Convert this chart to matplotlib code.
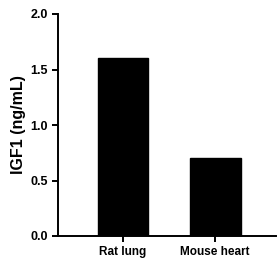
import matplotlib
matplotlib.use("Agg")
import matplotlib.pyplot as plt

categories = ["Rat lung", "Mouse heart"]
values = [1.6, 0.7]
yticks = [0.0, 0.5, 1.0, 1.5, 2.0]

plt.rcParams['font.family'] = ['Liberation Sans', 'DejaVu Sans']
plt.rcParams['font.weight'] = 'bold'

W, H = 277, 261
fig = plt.figure(figsize=(W / 100, H / 100), dpi=100)
ax = fig.add_axes([58 / W, (H - 236) / H, (276 - 58) / W, (236 - 14) / H])

x = list(range(len(categories)))
ax.bar(x, values, width=0.55, color='black', edgecolor='black')

ax.set_ylim(0, 2.0)
ax.set_xlim(-0.707, 1.66)
ax.set_yticks(yticks)
ax.set_yticklabels([f"{v:.1f}" for v in yticks], fontsize=9, fontweight='bold')
ax.set_xticks(x)
ax.set_xticklabels(categories, fontsize=8.5, fontweight='bold')
ax.set_ylabel("IGF1 (ng/mL)", fontsize=11.5, fontweight='bold', labelpad=3)

for s in ['top', 'right']:
    ax.spines[s].set_visible(False)
for s in ['left', 'bottom']:
    ax.spines[s].set_linewidth(1.4)
ax.tick_params(axis='both', width=1.4, length=4.5, pad=3, colors='black')

fig.savefig("out.png", dpi=100)
